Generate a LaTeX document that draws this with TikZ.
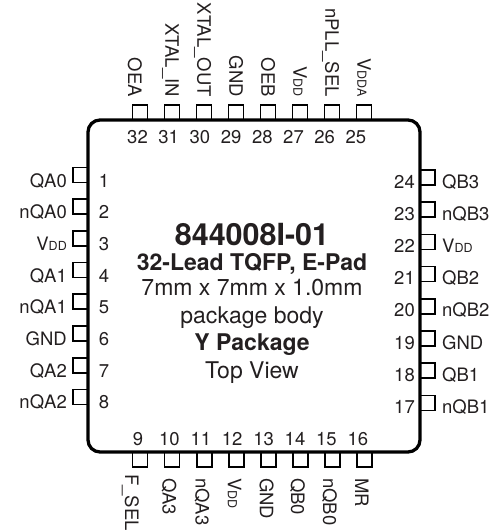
\documentclass[tikz,border=0pt]{standalone}
\usepackage{fontspec}
\setmainfont{TeX Gyre Heros}
\definecolor{ink}{HTML}{231F20}
\newcommand{\vdd}{V{\fontsize{12.5}{12.5}\selectfont DD}}
\newcommand{\vdda}{V{\fontsize{12.5}{12.5}\selectfont DDA}}
\tikzset{
    padbox/.style={draw, line width=1.7pt, minimum size=15pt, inner sep=0pt},
    pinlbl/.style={text=ink, inner sep=0pt, font=\fontsize{18.5}{18.5}\selectfont},
    headtxt/.style={text=ink, inner sep=0pt, anchor=base, font=\fontsize{23}{23}\selectfont},
}
\begin{document}
\begin{tikzpicture}[x=1pt, y=-1pt]
    \useasboundingbox (0, 0) rectangle (504, 531);
    \foreach \i/\lbl in {1/QA0, 2/nQA0, 3/\vdd, 4/QA1, 5/nQA1, 6/GND, 7/QA2, 8/nQA2} {
        \pgfmathsetmacro{\cy}{175 + 31.7*(\i-1)}
        \node[padbox] (pad\i) at (80.5, \cy) {};
        \node[pinlbl, anchor=base east] (lbl\i) at (67, \cy+12) {\lbl};
        \node[pinlbl, anchor=base] (num\i) at (104, \cy+12) {\i};
    }
    \foreach \i/\lbl/\dx/\ty in {9/F\_SEL/15/474, 10/QA3/9.5/478, 11/nQA3/8.5/478, 12/\vdd/8.5/478, 13/GND/8.5/478, 14/QB0/9.5/478, 15/nQB0/9.5/478, 16/MR/9.5/478} {
        \pgfmathsetmacro{\cx}{140 + 32.1*(\i-9)}
        \pgfmathsetmacro{\nx}{138 + 31.4*(\i-9)}
        \node[padbox] (pad\i) at (\cx, 459.5) {};
        \node[pinlbl, rotate=-90, anchor=base west] (lbl\i) at (\cx-\dx, \ty) {\lbl};
        \node[pinlbl, anchor=base] (num\i) at (\nx, 445) {\i};
    }
    \foreach \i/\lbl in {17/nQB1, 18/QB1, 19/GND, 20/nQB2, 21/QB2, 22/\vdd, 23/nQB3, 24/QB3} {
        \pgfmathsetmacro{\cy}{177.5 + 32.2*(24-\i)}
        \node[padbox] (pad\i) at (427.5, \cy) {};
        \node[pinlbl, anchor=base west] (lbl\i) at (442, \cy+10.5) {\lbl};
        \node[pinlbl, anchor=base east] (num\i) at (415, \cy+10.5) {\i};
    }
    \foreach \i/\lbl/\dx in {25/\vdda/6.7, 26/nPLL\_SEL/6.7, 27/\vdd/6.7, 28/OEB/6.7, 29/GND/6.7, 30/XTAL\_OUT/6.7, 31/XTAL\_IN/6.7, 32/OEA/12} {
        \pgfmathsetmacro{\cx}{140 + 32*(32-\i)}
        \pgfmathsetmacro{\nx}{137.5 + 31.2*(32-\i)}
        \node[padbox] (pad\i) at (\cx, 112.5) {};
        \node[pinlbl, rotate=-90, anchor=base east] (lbl\i) at (\cx-\dx, 97) {\lbl};
        \node[pinlbl, anchor=base] (num\i) at (\nx, 143) {\i};
    }
    \draw[line width=3.3pt, rounded corners=12pt] (88, 120) rectangle (420, 452);
    \node[headtxt, font=\bfseries\fontsize{30.5}{30.5}\selectfont] (part) at (252, 245.7) {844008I-01};
    \node[headtxt, font=\bfseries\fontsize{23}{23}\selectfont] (lead) at (252, 270) {32-Lead TQFP, E-Pad};
    \node[headtxt] (dims) at (252, 295) {7mm x 7mm x 1.0mm};
    \node[headtxt] (bodytxt) at (252, 323) {package body};
    \node[headtxt, font=\bfseries\fontsize{23}{23}\selectfont] (pkg) at (252, 350.7) {Y Package};
    \node[headtxt] (view) at (252, 378) {Top View};
\end{tikzpicture}
\end{document}
